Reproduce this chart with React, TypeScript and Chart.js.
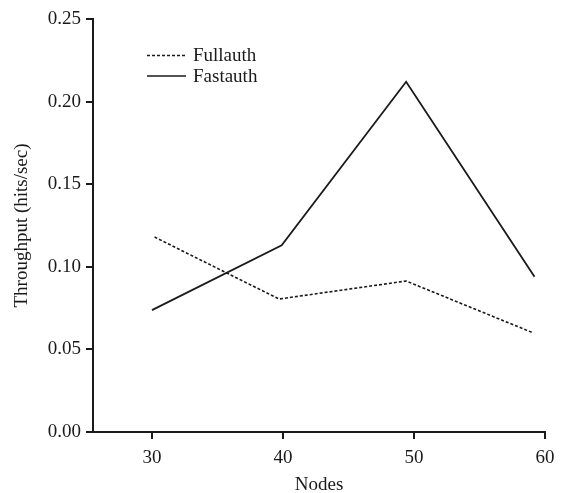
import React, { useEffect, useRef } from "react";
import { Chart, registerables } from "chart.js";

Chart.register(...registerables);

const fullauthX = [30.2, 39.7, 49.4, 59.1];
const fullauthY = [0.118, 0.0805, 0.0914, 0.06];
const fastauthX = [30.0, 39.9, 49.4, 59.2];
const fastauthY = [0.0738, 0.113, 0.212, 0.094];
const seriesNames = ["Fullauth", "Fastauth"];
const xTicks = [30, 40, 50, 60];
const yTicks = [0, 0.05, 0.1, 0.15, 0.2, 0.25];
const xTitle = "Nodes";
const yTitle = "Throughput (hits/sec)";

const FONT = "'Liberation Serif', 'Times New Roman', serif";
const INK = "#1a1a1a";

const legendPlugin = {
  id: "customLegend",
  afterDraw(chart: any) {
    const ctx = chart.ctx;
    const items = [
      { name: seriesNames[0], dash: [3, 2] },
      { name: seriesNames[1], dash: [] },
    ];
    ctx.save();
    items.forEach((it, i) => {
      const y = 55.5 + i * 20.5;
      ctx.strokeStyle = INK;
      ctx.lineWidth = 1.6;
      ctx.setLineDash(it.dash);
      ctx.beginPath();
      ctx.moveTo(147, y);
      ctx.lineTo(186, y);
      ctx.stroke();
      ctx.setLineDash([]);
      ctx.fillStyle = INK;
      ctx.font = `19px ${FONT}`;
      ctx.textBaseline = "middle";
      ctx.textAlign = "left";
      ctx.fillText(it.name, 193, y + 1);
    });
    ctx.restore();
  },
};

export default function App() {
  const ref = useRef<HTMLCanvasElement | null>(null);
  useEffect(() => {
    document.body.style.margin = "0";
    const canvas = ref.current!;
    const chart = new Chart(canvas, {
      type: "line",
      data: {
        datasets: [
          {
            label: seriesNames[0],
            data: fullauthX.map((x, i) => ({ x, y: fullauthY[i] })),
            borderColor: INK,
            borderWidth: 1.6,
            borderDash: [3, 2],
            pointRadius: 0,
            fill: false,
            tension: 0,
          },
          {
            label: seriesNames[1],
            data: fastauthX.map((x, i) => ({ x, y: fastauthY[i] })),
            borderColor: INK,
            borderWidth: 1.8,
            pointRadius: 0,
            fill: false,
            tension: 0,
          },
        ],
      },
      options: {
        animation: false,
        responsive: false,
        devicePixelRatio: 1,
        layout: { padding: { left: 0, right: 25, top: 19, bottom: 0 } },
        plugins: {
          legend: { display: false },
          tooltip: { enabled: false },
        },
        scales: {
          x: {
            type: "linear",
            min: 25.5,
            max: 60,
            afterBuildTicks: (scale: any) => {
              scale.ticks = xTicks.map((v) => ({ value: v }));
            },
            afterFit: (scale: any) => {
              scale.height = 61;
            },
            grid: {
              display: true,
              drawOnChartArea: false,
              drawTicks: true,
              tickLength: 7,
              color: INK,
              lineWidth: 2,
            },
            border: { display: true, color: INK, width: 2 },
            ticks: {
              color: INK,
              font: { family: FONT, size: 19 },
              padding: 8,
              maxRotation: 0,
              callback: (v: any) => String(v),
            },
            title: {
              display: true,
              text: xTitle,
              color: INK,
              font: { family: FONT, size: 19, lineHeight: 0.8 },
              padding: { top: 0, bottom: 0 },
            },
          },
          y: {
            type: "linear",
            min: 0,
            max: 0.25,
            afterBuildTicks: (scale: any) => {
              scale.ticks = yTicks.map((v) => ({ value: v }));
            },
            afterFit: (scale: any) => {
              scale.width = 93;
            },
            grid: {
              display: true,
              drawOnChartArea: false,
              drawTicks: true,
              tickLength: 7,
              color: INK,
              lineWidth: 2,
            },
            border: { display: true, color: INK, width: 2 },
            ticks: {
              color: INK,
              font: { family: FONT, size: 19 },
              padding: 5,
              callback: (v: any) => Number(v).toFixed(2),
            },
            title: {
              display: true,
              text: yTitle,
              color: INK,
              font: { family: FONT, size: 19 },
              padding: { top: 11, bottom: 0 },
            },
          },
        },
      },
      plugins: [legendPlugin],
    } as any);
    return () => chart.destroy();
  }, []);
  return (
    <div style={{ width: 570, height: 493, background: "#fff" }}>
      <canvas ref={ref} width={570} height={493} style={{ display: "block" }} />
    </div>
  );
}
